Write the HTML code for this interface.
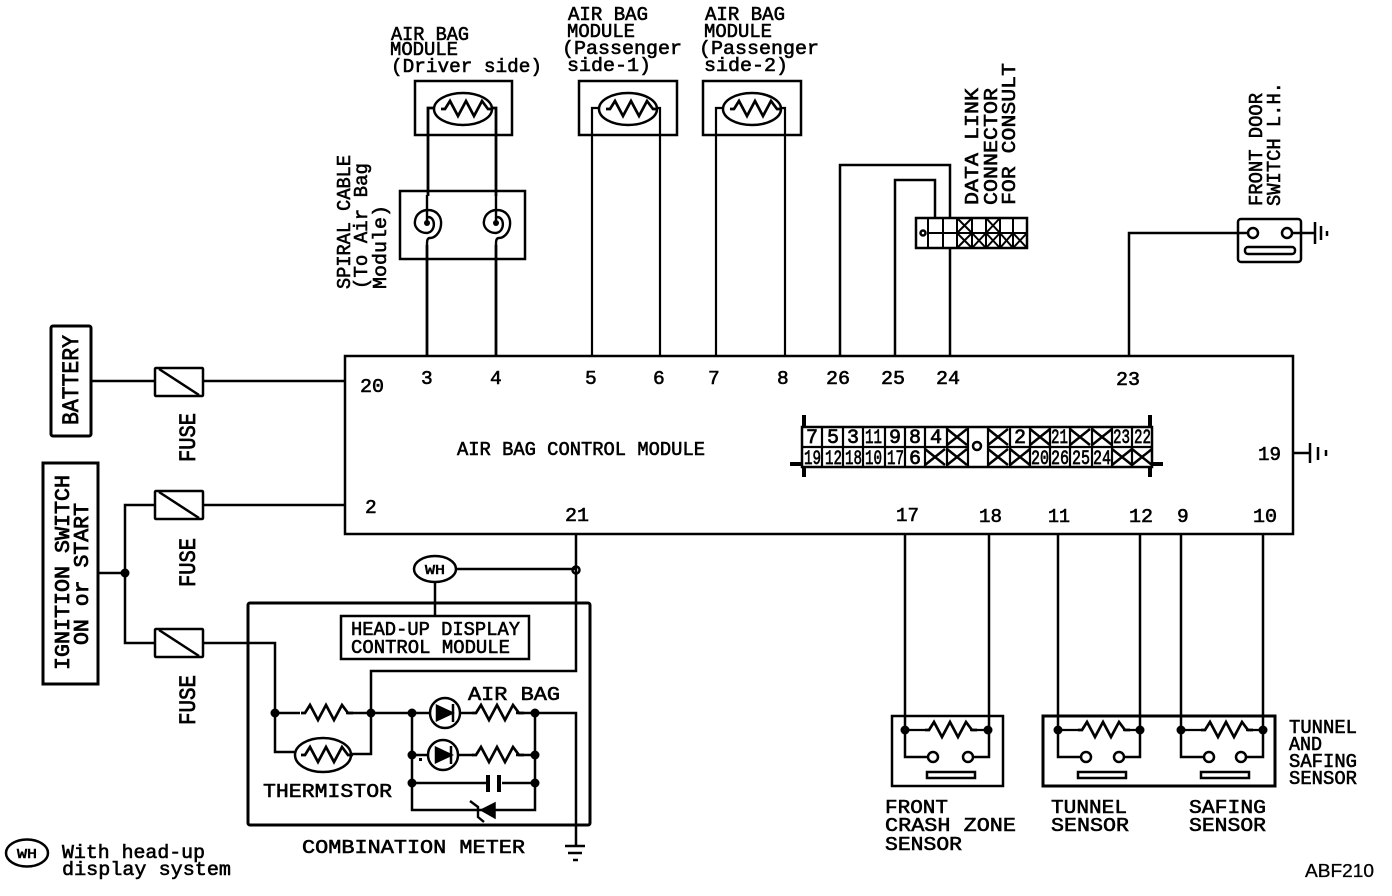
<!DOCTYPE html>
<html><head><meta charset="utf-8"><style>
html,body{margin:0;padding:0;background:#fff}
svg{display:block}
text{font-family:"Liberation Mono","DejaVu Sans Mono",monospace;font-size:19.5px;fill:#000;font-weight:normal;stroke:#000;stroke-width:.6}
.d{font-size:20px;stroke-width:.7}
.b{font-size:23px;stroke-width:.8}
.b2{font-size:21px;stroke-width:.8}
.s{font-family:"Liberation Sans",sans-serif;font-size:18px;stroke-width:.3}
</style></head><body>
<svg width="1392" height="896" viewBox="0 0 1392 896" xmlns="http://www.w3.org/2000/svg">
<defs>
<path id="z" d="M0 0h4l5-8 8 15 8-15 8 15 8-15 6 8h5" fill="none" stroke="#000" stroke-width="2.7"/>
<path id="x" d="M0 0l20 16M20 0L0 16" stroke="#000" stroke-width="2.5"/>
<circle id="n" r="4.5" fill="#000"/>
<g id="sp"><path d="M0 -28V0M1 -6C9 -6 9 9 0 10C-9 10 -13 3 -12 -2C-11 -10 -4 -13 1 -13C9 -13 15 -7 14 2C13 11 7 15 3 15C0 15 0 18 0 22" fill="none" stroke="#000" stroke-width="2.4"/><circle r="3" fill="#000"/></g>
</defs>
<g fill="none" stroke="#000" stroke-width="2.5">
<rect x="345" y="356" width="948" height="178"/>
<!-- top modules -->
<rect x="415" y="81" width="97" height="54"/><rect x="579" y="81" width="98" height="54"/><rect x="703" y="81" width="98" height="54"/>
<ellipse cx="463" cy="109" rx="29" ry="16"/><ellipse cx="628" cy="109" rx="29" ry="16"/><ellipse cx="752" cy="109" rx="29" ry="16"/>
<path d="M434 108h-6V196M492 108h4V196M427 245V356M496 245V356" stroke-width="2.8"/>
<path d="M599 108h-7V356M657 108h3V356M723 108h-7V356M781 108h4V356" stroke-width="2.2"/>
<rect x="400" y="191" width="125" height="68"/>
<path d="M840 356V165H950V218M895 356V180H935V218M950 248V356M1129 356V233H1248M1292 233H1315"/>
<rect x="916" y="218" width="111" height="30" stroke-width="2.5"/>
<path d="M928 218V248M943 218V248M957 218V248M972 218V248M986 218V248M1000 218V248M1013 218V248M928 233H1027" stroke-width="2"/>
<path d="M957 218L972 233M972 218L957 233M986 218L1000 233M1000 218L986 233M957 233L972 248M972 233L957 248M972 233L986 248M986 233L972 248M986 233L1000 248M1000 233L986 248M1000 233L1013 248M1013 233L1000 248M1013 233L1027 248M1027 233L1013 248" stroke-width="2"/>
<circle cx="923" cy="233" r="2.5"/>
<rect x="1238" y="219" width="63" height="43" rx="3"/><circle cx="1253" cy="233" r="5"/><circle cx="1287" cy="233" r="5"/>
<rect x="1245" y="247" width="50" height="7" rx="3"/>
<path d="M1315 222V244M1321 226V240M1327 231V236"/>
<!-- left -->
<rect x="51" y="326" width="40" height="110" rx="2" stroke-width="3"/>
<rect x="43" y="463" width="55" height="221" stroke-width="3"/>
<path d="M91 381H155M203 381H345M98 573H125M155 505H125V643H155M203 505H345M203 643H275V752H295M275 713H300M346 713H431M351 754H371V671H576V534M459 713H472M516 713H576V845"/>
<rect x="155" y="368" width="48" height="28" rx="1"/><rect x="155" y="491" width="48" height="28" rx="1"/><rect x="155" y="629" width="48" height="28" rx="1"/>
<path d="M159 369L199 395M159 492L199 518M159 630L199 656"/>
<ellipse cx="435" cy="569" rx="21" ry="13"/><path d="M456 569H576M435 582V616"/>
<circle cx="576" cy="570" r="3.5"/>
<rect x="341" y="616" width="188" height="43"/>
<rect x="248" y="603" width="342" height="222" rx="2" stroke-width="3"/>
<ellipse cx="323" cy="755" rx="28" ry="17"/>
<circle cx="445" cy="713" r="15"/><circle cx="443" cy="755" r="15"/>
<path d="M412 713V810H535V713M412 755H428M458 755H473M516 755H535M412 783H486M502 783H535M412 810H480M496 810H535"/>
<path d="M437 706V720L452 713zM436 748V762L451 755z" fill="#000"/>
<path d="M453 704V722M451 746V764"/>
<path d="M488 775V792M499 775V792" stroke-width="4"/>
<path d="M495 803V818L481 810z" fill="#000" stroke-width="1.5"/>
<path d="M470 801L478 807V817L484 822" stroke-width="2.4"/>
<path d="M565 846H585M568 853H582M573 860H578"/>
<!-- bottom wires -->
<path d="M905 534V757H928M989 534V757H973M1058 534V757H1081M1140 534V757H1124M1181 534V757H1204M1263 534V757H1246"/>
<rect x="892" y="716" width="111" height="70"/><rect x="1043" y="716" width="232" height="70" stroke-width="3"/>
<circle cx="933" cy="757" r="5"/><circle cx="968" cy="757" r="5"/><circle cx="1086" cy="757" r="5"/><circle cx="1119" cy="757" r="5"/><circle cx="1209" cy="757" r="5"/><circle cx="1241" cy="757" r="5"/>
<rect x="927" y="772" width="48" height="6"/><rect x="1078" y="772" width="48" height="6"/><rect x="1201" y="772" width="48" height="6"/>
<path d="M1293 453H1310M1310 443V463M1318 447V460M1326 450V456"/>
<!-- module connector -->
<rect x="802" y="427" width="350" height="40"/>
<path d="M804 415V427M804 467V477M1150 415V427M1150 467V477M790 464H802M1152 464H1163" stroke-width="4"/>
<path d="M802 447H968M988 447H1152M822 427V467M843 427V467M863 427V467M885 427V467M905 427V467M925 427V467M947 427V467M968 427V467M988 427V467M1010 427V467M1030 427V467M1050 427V467M1070 427V467M1092 427V467M1112 427V467M1132 427V467" stroke-width="2.2"/>
<circle cx="977" cy="446" r="4"/>
<ellipse cx="27" cy="853" rx="21" ry="13.5"/>
</g>
<use href="#sp" x="427" y="223"/><use href="#sp" x="496" y="223"/>
<use href="#z" x="441" y="109"/><use href="#z" x="606" y="109"/><use href="#z" x="730" y="109"/>
<use href="#z" x="301" y="713"/><use href="#z" x="301" y="755"/><use href="#z" x="472" y="713"/><use href="#z" x="472" y="755"/>
<use href="#z" x="925" y="730"/><use href="#z" x="1078" y="730"/><use href="#z" x="1201" y="730"/>
<path d="M905 730H925M970 730H988M1058 730H1078M1123 730H1140M1181 730H1201M1246 730H1263" stroke="#000" stroke-width="2.2"/>
<use href="#n" x="125" y="573"/><use href="#n" x="275" y="713"/><use href="#n" x="371" y="713"/><use href="#n" x="412" y="713"/><use href="#n" x="535" y="713"/>
<use href="#n" x="412" y="755"/><use href="#n" x="535" y="755"/><use href="#n" x="412" y="783"/><use href="#n" x="535" y="783"/>
<use href="#n" x="905" y="730"/><use href="#n" x="988" y="730"/><use href="#n" x="1058" y="730"/><use href="#n" x="1140" y="730"/><use href="#n" x="1181" y="730"/><use href="#n" x="1263" y="730"/>
<rect x="419" y="758" width="3" height="3"/>
<use href="#x" x="947" y="429"/><use href="#x" x="988" y="429"/><use href="#x" x="1030" y="429"/><use href="#x" x="1070" y="429"/>
<use href="#x" x="925" y="449"/><use href="#x" x="947" y="449"/><use href="#x" x="988" y="449"/><use href="#x" x="1010" y="449"/><use href="#x" x="1112" y="449"/><use href="#x" x="1132" y="449"/>
<use href="#x" x="1092" y="429"/>

<!-- top labels -->
<text x="391" y="40" textLength="78" lengthAdjust="spacingAndGlyphs">AIR BAG</text>
<text x="390" y="55" textLength="68" lengthAdjust="spacingAndGlyphs">MODULE</text>
<text x="391" y="72" textLength="151" lengthAdjust="spacingAndGlyphs">(Driver side)</text>
<text x="568" y="20" textLength="80" lengthAdjust="spacingAndGlyphs">AIR BAG</text>
<text x="567" y="37" textLength="68" lengthAdjust="spacingAndGlyphs">MODULE</text>
<text x="562" y="54" textLength="120" lengthAdjust="spacingAndGlyphs">(Passenger</text>
<text x="567" y="71" textLength="84" lengthAdjust="spacingAndGlyphs">side-1)</text>
<text x="705" y="20" textLength="80" lengthAdjust="spacingAndGlyphs">AIR BAG</text>
<text x="704" y="37" textLength="68" lengthAdjust="spacingAndGlyphs">MODULE</text>
<text x="699" y="54" textLength="120" lengthAdjust="spacingAndGlyphs">(Passenger</text>
<text x="704" y="71" textLength="84" lengthAdjust="spacingAndGlyphs">side-2)</text>
<!-- rotated -->
<text transform="translate(350,289) rotate(-90)" textLength="134" lengthAdjust="spacingAndGlyphs">SPIRAL CABLE</text>
<text transform="translate(367,289) rotate(-90)" textLength="126" lengthAdjust="spacingAndGlyphs">(To Air Bag</text>
<text transform="translate(386,289) rotate(-90)" textLength="84" lengthAdjust="spacingAndGlyphs">Module)</text>
<text transform="translate(978,205) rotate(-90)" textLength="117" lengthAdjust="spacingAndGlyphs">DATA LINK</text>
<text transform="translate(997,205) rotate(-90)" textLength="117" lengthAdjust="spacingAndGlyphs">CONNECTOR</text>
<text transform="translate(1015,205) rotate(-90)" textLength="142" lengthAdjust="spacingAndGlyphs">FOR CONSULT</text>
<text transform="translate(1262,206) rotate(-90)" textLength="113" lengthAdjust="spacingAndGlyphs">FRONT DOOR</text>
<text transform="translate(1280,206) rotate(-90)" textLength="124" lengthAdjust="spacingAndGlyphs">SWITCH L.H.</text>
<text class="b" transform="translate(78,425) rotate(-90)" textLength="90" lengthAdjust="spacingAndGlyphs">BATTERY</text>
<text class="b2" transform="translate(69,670) rotate(-90)" textLength="195" lengthAdjust="spacingAndGlyphs">IGNITION SWITCH</text>
<text class="b2" transform="translate(88,645) rotate(-90)" textLength="142" lengthAdjust="spacingAndGlyphs">ON or START</text>
<text class="b" transform="translate(195,462) rotate(-90)" textLength="49" lengthAdjust="spacingAndGlyphs">FUSE</text>
<text class="b" transform="translate(195,587) rotate(-90)" textLength="49" lengthAdjust="spacingAndGlyphs">FUSE</text>
<text class="b" transform="translate(195,725) rotate(-90)" textLength="50" lengthAdjust="spacingAndGlyphs">FUSE</text>
<!-- pins -->
<text x="360" y="392" textLength="24" lengthAdjust="spacingAndGlyphs">20</text>
<text x="421" y="384">3</text><text x="490" y="384">4</text><text x="585" y="384">5</text><text x="653" y="384">6</text><text x="708" y="384">7</text><text x="777" y="384">8</text>
<text x="826" y="384" textLength="24" lengthAdjust="spacingAndGlyphs">26</text>
<text x="881" y="384" textLength="24" lengthAdjust="spacingAndGlyphs">25</text>
<text x="936" y="384" textLength="24" lengthAdjust="spacingAndGlyphs">24</text>
<text x="1116" y="385" textLength="24" lengthAdjust="spacingAndGlyphs">23</text>
<text x="1258" y="460" textLength="23" lengthAdjust="spacingAndGlyphs">19</text>
<text x="365" y="513">2</text>
<text x="565" y="521" textLength="24" lengthAdjust="spacingAndGlyphs">21</text>
<text x="896" y="521" textLength="23" lengthAdjust="spacingAndGlyphs">17</text>
<text x="979" y="522" textLength="23" lengthAdjust="spacingAndGlyphs">18</text>
<text x="1048" y="522" textLength="22" lengthAdjust="spacingAndGlyphs">11</text>
<text x="1129" y="522" textLength="24" lengthAdjust="spacingAndGlyphs">12</text>
<text x="1177" y="522">9</text>
<text x="1253" y="522" textLength="24" lengthAdjust="spacingAndGlyphs">10</text>
<text x="457" y="455" textLength="248" lengthAdjust="spacingAndGlyphs">AIR BAG CONTROL MODULE</text>
<!-- connector digits -->
<g>
<text class="d" x="806" y="443">7</text><text class="d" x="827" y="443">5</text><text class="d" x="847" y="443">3</text>
<text class="d" x="865" y="443" textLength="17" lengthAdjust="spacingAndGlyphs">11</text>
<text class="d" x="889" y="443">9</text><text class="d" x="909" y="443">8</text><text class="d" x="930" y="443">4</text>
<text class="d" x="1014" y="443">2</text>
<text class="d" x="1051" y="443" textLength="17" lengthAdjust="spacingAndGlyphs">21</text>
<text class="d" x="1113" y="443" textLength="17" lengthAdjust="spacingAndGlyphs">23</text>
<text class="d" x="1134" y="443" textLength="17" lengthAdjust="spacingAndGlyphs">22</text>
<text class="d" x="804" y="464" textLength="17" lengthAdjust="spacingAndGlyphs">19</text>
<text class="d" x="825" y="464" textLength="17" lengthAdjust="spacingAndGlyphs">12</text>
<text class="d" x="845" y="464" textLength="17" lengthAdjust="spacingAndGlyphs">18</text>
<text class="d" x="865" y="464" textLength="17" lengthAdjust="spacingAndGlyphs">10</text>
<text class="d" x="887" y="464" textLength="17" lengthAdjust="spacingAndGlyphs">17</text>
<text class="d" x="909" y="464">6</text>
<text class="d" x="1031" y="464" textLength="18" lengthAdjust="spacingAndGlyphs">20</text>
<text class="d" x="1051" y="464" textLength="18" lengthAdjust="spacingAndGlyphs">26</text>
<text class="d" x="1072" y="464" textLength="18" lengthAdjust="spacingAndGlyphs">25</text>
<text class="d" x="1093" y="464" textLength="18" lengthAdjust="spacingAndGlyphs">24</text>
</g>
<!-- misc -->
<text x="425" y="574" textLength="20" lengthAdjust="spacingAndGlyphs" style="font-size:14px">WH</text>
<text x="17" y="858" textLength="20" lengthAdjust="spacingAndGlyphs" style="font-size:14px">WH</text>
<text x="351" y="635" textLength="169" lengthAdjust="spacingAndGlyphs">HEAD-UP DISPLAY</text>
<text x="351" y="653" textLength="159" lengthAdjust="spacingAndGlyphs">CONTROL MODULE</text>
<text x="468" y="700" textLength="92" lengthAdjust="spacingAndGlyphs">AIR BAG</text>
<text x="263" y="797" textLength="129" lengthAdjust="spacingAndGlyphs">THERMISTOR</text>
<text x="302" y="853" textLength="223" lengthAdjust="spacingAndGlyphs">COMBINATION METER</text>
<text x="62" y="858" textLength="143" lengthAdjust="spacingAndGlyphs">With head-up</text>
<text x="62" y="875" textLength="169" lengthAdjust="spacingAndGlyphs">display system</text>
<text x="885" y="813" textLength="63" lengthAdjust="spacingAndGlyphs">FRONT</text>
<text x="885" y="831" textLength="131" lengthAdjust="spacingAndGlyphs">CRASH ZONE</text>
<text x="885" y="850" textLength="77" lengthAdjust="spacingAndGlyphs">SENSOR</text>
<text x="1051" y="813" textLength="76" lengthAdjust="spacingAndGlyphs">TUNNEL</text>
<text x="1051" y="831" textLength="78" lengthAdjust="spacingAndGlyphs">SENSOR</text>
<text x="1189" y="813" textLength="77" lengthAdjust="spacingAndGlyphs">SAFING</text>
<text x="1189" y="831" textLength="77" lengthAdjust="spacingAndGlyphs">SENSOR</text>
<text x="1289" y="733" textLength="68" lengthAdjust="spacingAndGlyphs">TUNNEL</text>
<text x="1289" y="750" textLength="33" lengthAdjust="spacingAndGlyphs">AND</text>
<text x="1289" y="767" textLength="68" lengthAdjust="spacingAndGlyphs">SAFING</text>
<text x="1289" y="784" textLength="68" lengthAdjust="spacingAndGlyphs">SENSOR</text>
<text class="s" x="1305" y="877" textLength="69" lengthAdjust="spacingAndGlyphs">ABF210</text>
</svg>
</body></html>
